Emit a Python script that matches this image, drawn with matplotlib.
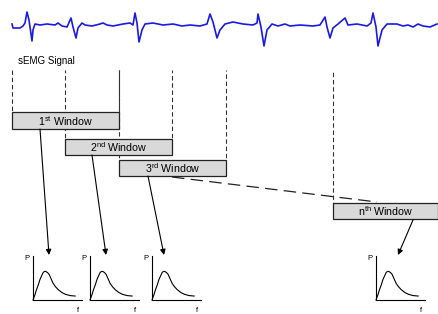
"""sEMG windowing diagram: signal, overlapping windows, per-window spectra."""

import matplotlib

matplotlib.use("Agg")
import matplotlib.pyplot as plt  # noqa: E402

plt.rcParams["font.family"] = ["Liberation Sans", "DejaVu Sans"]
plt.rcParams["mathtext.fontset"] = "custom"
plt.rcParams["mathtext.rm"] = "Liberation Sans"

# ---------------------------------------------------------------------------
# Data (pixel space of the 438x314 picture, y grows downward)
# ---------------------------------------------------------------------------
signal_x = [12, 13, 20, 23, 25, 27, 29, 32, 33, 35, 40, 47, 55, 58, 62, 67, 71,
            73, 76, 78, 82, 85, 92, 100, 103, 107, 113, 123, 130, 133, 135, 137,
            139, 142, 145, 153, 163, 173, 182, 190, 200, 207, 210, 213, 217, 220,
            225, 233, 243, 253, 257, 258, 261, 264, 267, 272, 278, 285, 290, 300,
            313, 320, 325, 327, 330, 333, 338, 345, 348, 357, 367, 371, 373, 376,
            378, 382, 387, 397, 403, 408, 413, 418, 423, 430, 437]
signal_y = [24, 28, 28, 26, 23, 12, 20, 41, 30, 24, 25, 24, 25, 23, 26, 27, 18,
            27, 38, 28, 23, 25, 26, 24, 23, 25, 26, 24, 23, 25, 13, 23,
            42, 30, 24, 23, 25, 24, 26, 25, 26, 24, 14, 22, 38, 30,
            24, 22, 24, 25, 23, 14, 27, 46, 30, 24, 26, 24, 26, 25,
            26, 25, 17, 27, 38, 28, 24, 18, 25, 24, 26, 23, 13, 27,
            46, 30, 24, 24, 26, 25, 27, 24, 26, 27, 24]

window_labels = ["1", "2", "3", "n"]
window_suffix = ["st", "nd", "rd", "th"]
window_left = [12, 65, 119, 333]
window_right = [119, 172, 226, 438]
window_top = [112, 139, 160, 203]
window_bottom = [129, 155, 176, 219]

# arrow from window to its spectrum
arrow_start = [(40, 129), (92, 155), (148, 176), (413, 220)]
arrow_end = [(49, 255), (106, 255), (164, 255), (398, 255)]

# spectrum shape, as fractions of the small axes
spec_f = [0.0, 0.04, 0.07, 0.11, 0.14, 0.18, 0.21, 0.24, 0.26, 0.30, 0.33,
          0.37, 0.41, 0.46, 0.52, 0.59, 0.66, 0.76, 0.86]
spec_p = [0.0, 0.12, 0.23, 0.35, 0.46, 0.56, 0.63, 0.65, 0.65, 0.62, 0.58,
          0.48, 0.38, 0.30, 0.23, 0.17, 0.13, 0.10, 0.09]
spec_origin = [(33, 300), (90, 300), (152, 300), (376, 300)]
spec_w, spec_h = 49, 44

fig = plt.figure(figsize=(4.38, 3.14), dpi=100)
ax = fig.add_axes([0, 0, 1, 1])
ax.set_xlim(0, 438)
ax.set_ylim(314, 0)
ax.axis("off")

# signal
ax.plot(signal_x, signal_y, color="#1a1ae6", linewidth=1.2, solid_joinstyle="round")
ax.text(18, 61, "sEMG Signal", fontsize=7, ha="left", va="center")

# dashed guides from the signal down to each window
for i in range(len(window_left)):
    for x in (window_left[i], window_right[i]):
        if x >= 437:
            continue
        ax.plot([x, x], [70, window_top[i]], color="#333333", linewidth=0.8,
                linestyle=(i * 1.5, (4, 2.5)))

# window boxes
for i in range(len(window_left)):
    ax.add_patch(plt.Rectangle(
        (window_left[i], window_top[i]),
        window_right[i] - window_left[i],
        window_bottom[i] - window_top[i],
        facecolor="#d9d9d9", edgecolor="#222222", linewidth=0.9, zorder=3))
    ax.text((window_left[i] + window_right[i]) / 2,
            (window_top[i] + window_bottom[i]) / 2 + 0.5,
            rf"$\mathregular{{{window_labels[i]}^{{{window_suffix[i]}}}}}$ Window",
            fontsize=7.7, ha="center", va="center", zorder=4)

# long dashed link 3rd -> nth window
ax.plot([172, 377], [177, 202], color="#222222", linewidth=0.9,
        linestyle=(0, (10, 5)))

# arrows
for (x0, y0), (x1, y1) in zip(arrow_start, arrow_end):
    ax.annotate("", xy=(x1, y1), xytext=(x0, y0),
                arrowprops=dict(arrowstyle="-|>", color="black", lw=0.8,
                                mutation_scale=8, shrinkA=0, shrinkB=0))

# spectra
for ox, oy in spec_origin:
    ax.plot([ox, ox, ox + spec_w], [oy - spec_h, oy, oy], color="black", linewidth=0.8)
    ax.plot([ox + f * spec_w for f in spec_f], [oy - p * spec_h for p in spec_p],
            color="black", linewidth=0.8)
    ax.text(ox - 9, oy - 41, "P", fontsize=5.5, ha="left", va="center")
    ax.text(ox + 44, oy + 10, "f", fontsize=5.5, ha="left", va="center")

fig.savefig("out.png", dpi=100)
plt.close(fig)
